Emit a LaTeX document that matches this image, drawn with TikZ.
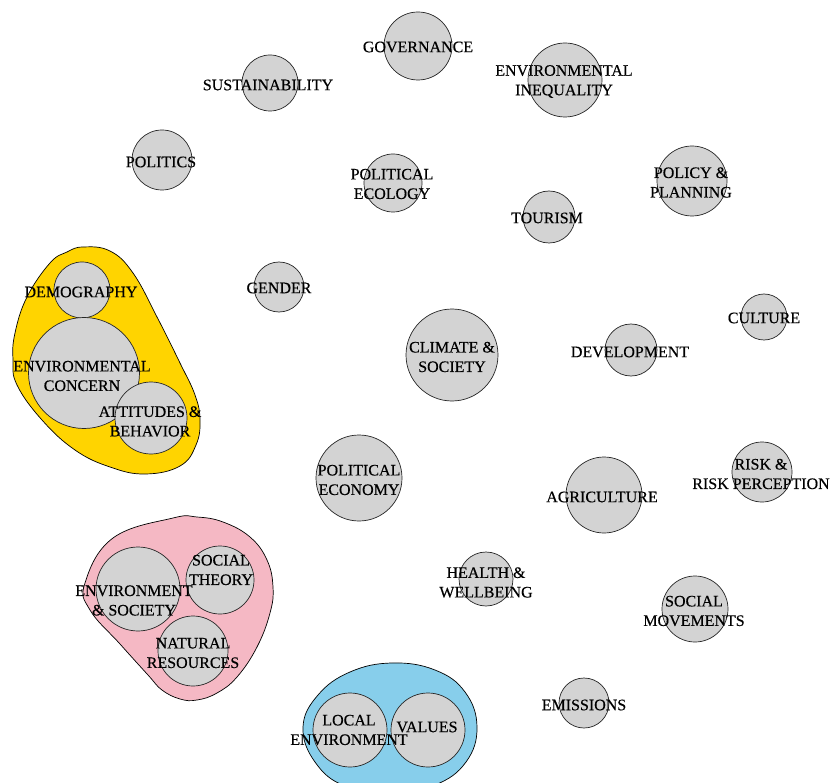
\documentclass[tikz,border=0pt]{standalone}
\usepackage{fontspec}
\setmainfont[FakeBold=0.35]{Liberation Serif}
\definecolor{nodegray}{HTML}{D3D3D3}
\definecolor{hullgold}{HTML}{FFD400}
\definecolor{hullpink}{HTML}{F5B8C4}
\definecolor{hullblue}{HTML}{87CEEB}
\tikzset{
  topic/.style={circle, draw=black!85, fill=nodegray, line width=0.7pt, inner sep=0pt},
  lbl/.style={align=center, font=\fontsize{16}{19.5}\selectfont, inner sep=0pt, text=black},
  hull/.style={draw=black, line width=0.7pt}
}
\begin{document}
\begin{tikzpicture}[x=1pt,y=-1pt]
\useasboundingbox (0,0) rectangle (832,783);
\clip (0,0) rectangle (832,783);
% group hulls
\draw[hull, fill=hullgold] plot[smooth cycle, tension=0.7] coordinates {
 (83,247) (110,251) (133,273) (157,317) (180,363) (195,395) (200,420) (196,445)
 (180,466) (145,474) (110,467) (75,450) (42,420) (17,385) (13,360) (15,333)
 (27,297) (50,263) (67,252)};
\draw[hull, fill=hullpink] plot[smooth cycle, tension=0.7] coordinates {
 (173,518) (113,538) (85,583) (90,610) (120,644) (148,675) (162,690) (180,699)
 (197,700) (217,693) (237,677) (257,647) (270,613) (273,587) (267,560) (250,537)
 (223,522) (197,517)};
\draw[hull, fill=hullblue] plot[smooth cycle, tension=0.7] coordinates {
 (303,727) (318,695) (350,672) (392,663) (435,670) (465,692) (477,727)
 (466,762) (435,785) (392,792) (345,786) (315,762)};
% topic circles
\node[topic, minimum size=68pt] (gov) at (418,46) {};
\node[topic, minimum size=74pt] (ineq) at (565,80) {};
\node[topic, minimum size=56pt] (sust) at (270,83) {};
\node[topic, minimum size=60pt] (pol) at (162,160) {};
\node[topic, minimum size=58pt] (polecol) at (393,183) {};
\node[topic, minimum size=70pt] (policy) at (692,181) {};
\node[topic, minimum size=52pt] (tour) at (549,217) {};
\node[topic, minimum size=50pt] (gender) at (279,287) {};
\node[topic, minimum size=46pt] (cult) at (764,317) {};
\node[topic, minimum size=92pt] (clim) at (452,355) {};
\node[topic, minimum size=52pt] (dev) at (631,350) {};
\node[topic, minimum size=56pt] (demog) at (82,290) {};
\node[topic, minimum size=111pt] (envcon) at (84,373) {};
\node[topic, minimum size=72pt] (att) at (151,418) {};
\node[topic, minimum size=86pt] (polecon) at (359,478) {};
\node[topic, minimum size=76pt] (agri) at (604,495) {};
\node[topic, minimum size=60pt] (risk) at (762,472) {};
\node[topic, minimum size=54pt] (health) at (486,579) {};
\node[topic, minimum size=66pt] (socmov) at (695,609) {};
\node[topic, minimum size=50pt] (emis) at (584,703) {};
\node[topic, minimum size=84pt] (envsoc) at (138,589) {};
\node[topic, minimum size=68pt] (socth) at (220,580) {};
\node[topic, minimum size=70pt] (natres) at (193,651) {};
\node[topic, minimum size=74pt] (local) at (350,730) {};
\node[topic, minimum size=74pt] (values) at (428,730) {};
% labels
\node[lbl] (govL) at (418,47) {GOVERNANCE};
\node[lbl] (ineqL) at (564,81.5) {ENVIRONMENTAL\\INEQUALITY};
\node[lbl] (sustL) at (268,85) {SUSTAINABILITY};
\node[lbl] (polL) at (161,162) {POLITICS};
\node[lbl] (polecolL) at (392,184) {POLITICAL\\ECOLOGY};
\node[lbl] (policyL) at (691,182.5) {POLICY \&\\PLANNING};
\node[lbl] (tourL) at (547,218) {TOURISM};
\node[lbl] (genderL) at (279,288) {GENDER};
\node[lbl] (cultL) at (764,318) {CULTURE};
\node[lbl] (climL) at (452,357) {CLIMATE \&\\SOCIETY};
\node[lbl] (devL) at (630,352) {DEVELOPMENT};
\node[lbl] (demogL) at (81,292) {DEMOGRAPHY};
\node[lbl] (envconL) at (82,376) {ENVIRONMENTAL\\CONCERN};
\node[lbl] (attL) at (150,421.5) {ATTITUDES \&\\BEHAVIOR};
\node[lbl] (poleconL) at (359,480) {POLITICAL\\ECONOMY};
\node[lbl] (agriL) at (602,497) {AGRICULTURE};
\node[lbl] (riskL) at (761,474) {RISK \&\\RISK PERCEPTION};
\node[lbl] (healthL) at (486,582.5) {HEALTH \&\\WELLBEING};
\node[lbl] (socmovL) at (694,611) {SOCIAL\\MOVEMENTS};
\node[lbl] (emisL) at (584,705) {EMISSIONS};
\node[lbl] (envsocL) at (134,600.5) {ENVIRONMENT\\\& SOCIETY};
\node[lbl] (socthL) at (221,570) {SOCIAL\\THEORY};
\node[lbl] (natresL) at (193,653) {NATURAL\\RESOURCES};
\node[lbl] (localL) at (349,730) {LOCAL\\ENVIRONMENT};
\node[lbl] (valuesL) at (427,727) {VALUES};
\end{tikzpicture}
\end{document}
